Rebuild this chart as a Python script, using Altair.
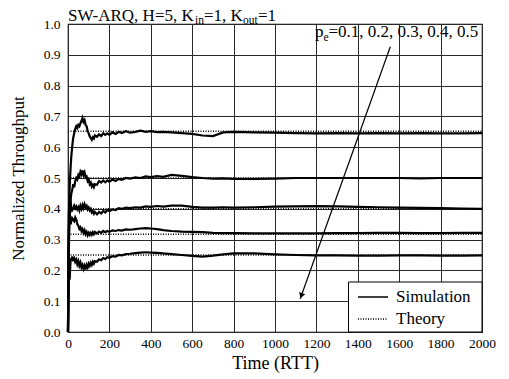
import altair as alt
import pandas as pd

# ---------------- data ----------------
T = [0, 2, 4, 6, 8, 10, 13, 16, 20, 25, 30, 35, 40, 45, 50, 55, 60, 65, 70, 75,
     80, 85, 90, 95, 100, 105, 110, 115, 120, 125, 130, 140, 150, 160, 170, 180,
     190, 200, 215, 230, 245, 260, 280, 300, 325, 350, 375, 400, 430, 460, 500,
     550, 600, 650, 700, 750, 800, 900, 1000, 1100, 1200, 1300, 1400, 1500, 1600,
     1700, 1800, 1900, 2000]

SIM_01 = [0, 0.20, 0.33, 0.42, 0.47, 0.50, 0.54, 0.57, 0.60, 0.63, 0.645, 0.66, 0.668,
          0.662, 0.672, 0.668, 0.678, 0.685, 0.695, 0.682, 0.688, 0.672, 0.668, 0.652,
          0.645, 0.635, 0.63, 0.624, 0.632, 0.628, 0.638, 0.634, 0.642, 0.636, 0.645,
          0.64, 0.645, 0.64, 0.648, 0.643, 0.65, 0.646, 0.652, 0.647, 0.65, 0.654,
          0.65, 0.652, 0.649, 0.65, 0.648, 0.646, 0.643, 0.638, 0.636, 0.648, 0.65,
          0.648, 0.647, 0.646, 0.645, 0.646, 0.645, 0.646, 0.645, 0.646, 0.645,
          0.645, 0.646]
SIM_02 = [0, 0.15, 0.26, 0.33, 0.37, 0.40, 0.43, 0.45, 0.46, 0.48, 0.47, 0.49, 0.50,
          0.495, 0.51, 0.505, 0.52, 0.512, 0.525, 0.51, 0.518, 0.502, 0.505, 0.49,
          0.495, 0.48, 0.485, 0.472, 0.478, 0.47, 0.48, 0.478, 0.49, 0.485, 0.492,
          0.486, 0.492, 0.488, 0.495, 0.49, 0.497, 0.494, 0.5, 0.498, 0.502, 0.5,
          0.505, 0.503, 0.506, 0.504, 0.51, 0.507, 0.503, 0.5, 0.498, 0.499, 0.497,
          0.497, 0.498, 0.5, 0.5, 0.5, 0.5, 0.5, 0.5, 0.499, 0.5, 0.5, 0.5]
SIM_03 = [0, 0.18, 0.30, 0.37, 0.41, 0.43, 0.42, 0.405, 0.395, 0.40, 0.41, 0.402,
          0.408, 0.398, 0.405, 0.395, 0.41, 0.40, 0.412, 0.402, 0.415, 0.405, 0.41,
          0.398, 0.404, 0.395, 0.40, 0.388, 0.392, 0.384, 0.39, 0.382, 0.39, 0.385,
          0.393, 0.388, 0.396, 0.392, 0.398, 0.396, 0.402, 0.4, 0.404, 0.402, 0.405,
          0.404, 0.408, 0.406, 0.409, 0.407, 0.41, 0.41, 0.406, 0.404, 0.404, 0.405,
          0.404, 0.405, 0.407, 0.408, 0.409, 0.408, 0.406, 0.405, 0.404, 0.403,
          0.402, 0.401, 0.4]
SIM_04 = [0, 0.25, 0.38, 0.42, 0.40, 0.37, 0.35, 0.36, 0.37, 0.365, 0.36, 0.372,
          0.365, 0.35, 0.345, 0.335, 0.34, 0.328, 0.334, 0.322, 0.33, 0.318, 0.325,
          0.314, 0.322, 0.315, 0.322, 0.316, 0.324, 0.318, 0.325, 0.32, 0.326, 0.322,
          0.328, 0.324, 0.328, 0.325, 0.33, 0.328, 0.331, 0.329, 0.333, 0.332, 0.334,
          0.336, 0.337, 0.336, 0.334, 0.331, 0.328, 0.326, 0.325, 0.324, 0.322,
          0.321, 0.321, 0.32, 0.32, 0.32, 0.32, 0.321, 0.321, 0.322, 0.322, 0.321,
          0.321, 0.322, 0.322]
SIM_05 = [0, 0.10, 0.17, 0.22, 0.17, 0.20, 0.24, 0.23, 0.245, 0.235, 0.24, 0.228,
          0.235, 0.22, 0.23, 0.215, 0.225, 0.21, 0.218, 0.205, 0.215, 0.203, 0.218,
          0.21, 0.222, 0.215, 0.225, 0.218, 0.228, 0.222, 0.23, 0.228, 0.236, 0.233,
          0.24, 0.237, 0.243, 0.241, 0.246, 0.245, 0.25, 0.249, 0.253, 0.254, 0.256,
          0.258, 0.259, 0.258, 0.257, 0.255, 0.253, 0.25, 0.247, 0.245, 0.248,
          0.252, 0.255, 0.255, 0.252, 0.25, 0.249, 0.249, 0.248, 0.248, 0.249,
          0.249, 0.248, 0.248, 0.249]

SERIES = ["0.1", "0.2", "0.3", "0.4", "0.5"]
THEORY = [0.652, 0.5, 0.4, 0.317, 0.25]
T_RANGE = [0, 2000]

X_TICKS = [0, 200, 400, 600, 800, 1000, 1200, 1400, 1600, 1800, 2000]
Y_TICKS = [0.0, 0.1, 0.2, 0.3, 0.4, 0.5, 0.6, 0.7, 0.8, 0.9, 1.0]

TITLE_PARTS = ["SW-ARQ, H=5, K", "in", "=1, K", "out", "=1"]
ANNOT_PARTS = ["p", "e", "=0.1, 0.2, 0.3, 0.4, 0.5"]
LEGEND_LABELS = ["Simulation", "Theory"]
ARROW_T = [1557, 1122]
ARROW_V = [0.926, 0.108]
ARROW_HEAD_T = [1127]
ARROW_HEAD_V = [0.118]

# ---------------- tables ----------------
sims = [SIM_01, SIM_02, SIM_03, SIM_04, SIM_05]
sim_rows = []
for name, vals in zip(SERIES, sims):
    for t, v in zip(T, vals):
        sim_rows.append({"t": t, "v": v, "s": name})
sim_df = pd.DataFrame(sim_rows)

th_rows = []
for name, v in zip(SERIES, THEORY):
    for t in T_RANGE:
        th_rows.append({"t": t, "v": v, "s": name})
th_df = pd.DataFrame(th_rows)

arrow_df = pd.DataFrame({"t": ARROW_T, "v": ARROW_V})
head_df = pd.DataFrame({"t": ARROW_HEAD_T, "v": ARROW_HEAD_V})
one = pd.DataFrame({"a": [0]})

FONT = "Liberation Serif"
W, H = 414, 308

xs = alt.Scale(domain=[0, 2000], nice=False, zero=False)
ys = alt.Scale(domain=[0, 1], nice=False, zero=False)

x_axis = alt.Axis(values=X_TICKS, format="d", grid=True, gridColor="#2a2a2a",
                  gridWidth=1, tickSize=0, domain=False, labelFont=FONT,
                  labelFontSize=13.5, labelColor="black", labelPadding=4,
                  labelFlush=False, labelOverlap=False,
                  title="Time (RTT)", titleFont=FONT, titleFontSize=18,
                  titleFontWeight="normal", titleColor="black",
                  titleBaseline="alphabetic", titleY=36)
y_axis = alt.Axis(values=Y_TICKS, format=".1f", grid=True, gridColor="#2a2a2a",
                  gridWidth=1, tickSize=0, domain=False, labelFont=FONT,
                  labelFontSize=13.5, labelColor="black", labelPadding=8,
                  labelFlush=False, labelOverlap=False, tickCount=11,
                  title="Normalized Throughput", titleFont=FONT, titleFontSize=17,
                  titleFontWeight="normal", titleColor="black", titlePadding=16)

X = alt.X("t:Q", scale=xs, axis=x_axis)
Y = alt.Y("v:Q", scale=ys, axis=y_axis)

theory = alt.Chart(th_df).mark_line(color="black", strokeWidth=1.5,
                                    strokeDash=[1, 1.5]).encode(
    x=X, y=Y, detail="s:N")

sim = alt.Chart(sim_df).mark_line(color="black", strokeWidth=2.2,
                                  interpolate="linear").encode(
    x=X, y=Y, detail="s:N", order="t:Q")

arrow = alt.Chart(arrow_df).mark_line(color="black", strokeWidth=1.2).encode(
    x=X, y=Y)
head = alt.Chart(head_df).mark_point(shape="triangle-up", filled=True,
                                     color="black", size=40, angle=199.5,
                                     opacity=1).encode(x=X, y=Y)


def txt(s, x, y, size, baseline="alphabetic"):
    return alt.Chart(one).mark_text(text=s, font=FONT, fontSize=size, color="black",
                                    align="left", baseline=baseline).encode(
        x=alt.value(x), y=alt.value(y))


# positions follow Times metrics of the preceding pieces
title_layers = [
    txt(TITLE_PARTS[0], 0, -3.5, 17),
    txt(TITLE_PARTS[1], 127, -0.5, 11.5),
    txt(TITLE_PARTS[2], 136, -3.5, 17),
    txt(TITLE_PARTS[3], 175, -0.5, 11.5),
    txt(TITLE_PARTS[4], 190, -3.5, 17),
]
annot_layers = [
    txt(ANNOT_PARTS[0], 247, 13, 17),
    txt(ANNOT_PARTS[1], 255.5, 16.5, 11.5),
    txt(ANNOT_PARTS[2], 260.5, 13, 17),
]

legend_box = alt.Chart(one).mark_rect(fill="white", stroke="black",
                                      strokeWidth=1).encode(
    x=alt.value(280.5), x2=alt.value(414), y=alt.value(258), y2=alt.value(308))
leg_solid = alt.Chart(one).mark_rule(color="black", strokeWidth=1.5).encode(
    x=alt.value(290), x2=alt.value(320), y=alt.value(273))
leg_dot = alt.Chart(one).mark_rule(color="black", strokeWidth=1.3,
                                   strokeDash=[1, 1.5]).encode(
    x=alt.value(290), x2=alt.value(320), y=alt.value(295))
leg_txt = [
    txt(LEGEND_LABELS[0], 328, 273, 17, "middle"),
    txt(LEGEND_LABELS[1], 328, 295, 17, "middle"),
]

chart = alt.layer(
    theory, sim, arrow, head, *annot_layers, legend_box, leg_solid, leg_dot,
    *leg_txt, *title_layers
).properties(
    width=W, height=H,
    padding={"left": 60, "top": 16, "right": 17, "bottom": 41},
    autosize=alt.AutoSizeParams(type="none"),
).configure_view(stroke="black", strokeWidth=1.2)

chart.save("out.html", embed_options={"renderer": "svg", "actions": False})
